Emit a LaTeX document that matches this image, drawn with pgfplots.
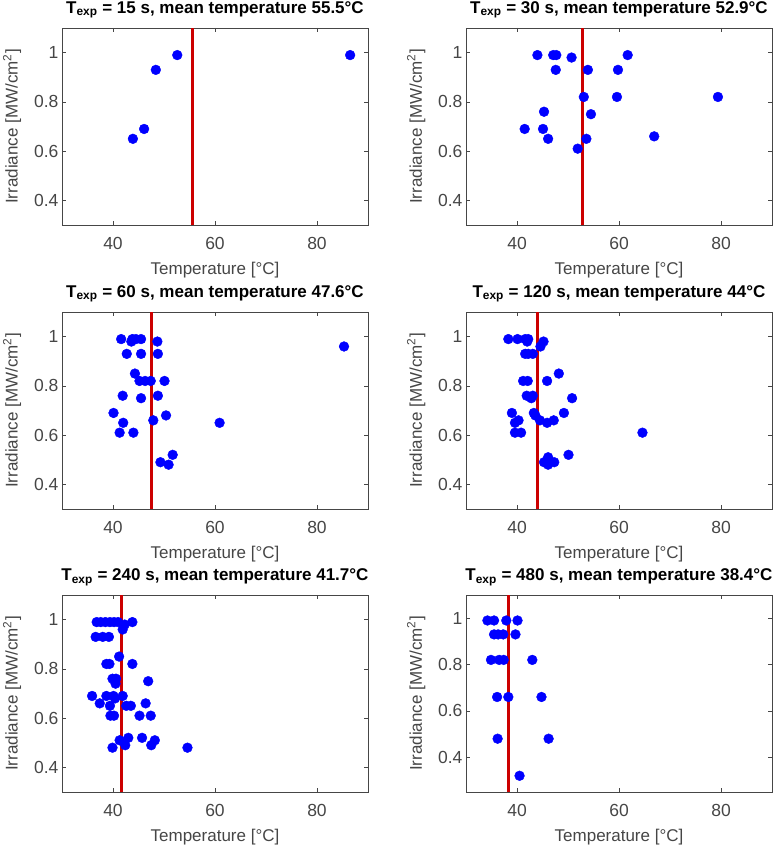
\documentclass[border=0pt]{standalone}
\usepackage{pgfplots}
\pgfplotsset{compat=1.18}
\usepackage{fontspec}
\setmainfont{Liberation Sans}

\definecolor{axgray}{RGB}{70,70,70}
\definecolor{meanred}{RGB}{204,0,0}
\definecolor{ptblue}{RGB}{0,0,255}

\pgfplotsset{
  panel/.style={
    scale only axis, width=306pt, height=197pt,
    anchor=north west,
    xmin=30, xmax=90, ymin=0.3, ymax=1.1,
    xtick={40,60,80}, ytick={0.4,0.6,0.8,1},
    tick align=inside, major tick length=4pt,
    axis line style={axgray, line width=0.6pt},
    tick style={axgray, line width=0.6pt},
    /pgf/number format/assume math mode=true,
    tick label style={font=\fontsize{17.5}{17.5}\selectfont, text=axgray},
    xticklabel style={yshift=-9pt},
    label style={font=\fontsize{17}{17}\selectfont, text=axgray},
    xlabel style={yshift=-5pt},
    ylabel style={yshift=6pt},
    title style={font=\fontsize{17}{17}\selectfont\bfseries},
    xlabel={Temperature [°C]},
    ylabel={Irradiance [MW/cm\textsuperscript{2}]},
  },
  pts/.style={only marks, mark=*, mark size=4.9pt, color=ptblue,
    mark options={draw=ptblue, fill=ptblue}},
  meanline/.style={meanred, line width=3pt, no marks},
}

\begin{document}
\begin{tikzpicture}
\path[use as bounding box] (0pt,0pt) rectangle (780pt,-845pt);

% T_exp = 15 s
\begin{axis}[panel, at={(62pt,-28pt)},
  title={T\textsubscript{exp} = 15 s, mean temperature 55.5°C}]
\addplot[pts] coordinates {(43.9,0.65) (46.1,0.69) (48.4,0.93) (52.6,0.99) (86.5,0.99)};
\addplot[meanline] coordinates {(55.5,0.3) (55.5,1.1)};
\end{axis}

% T_exp = 30 s
\begin{axis}[panel, at={(466pt,-28pt)},
  title={T\textsubscript{exp} = 30 s, mean temperature 52.9°C}]
\addplot[pts] coordinates {
  (44.0,0.99) (47.1,0.99) (47.7,0.99) (50.7,0.98) (61.7,0.99)
  (47.6,0.93) (53.9,0.93) (59.8,0.93)
  (53.1,0.82) (59.6,0.82) (79.4,0.82)
  (45.3,0.76) (54.5,0.75)
  (41.5,0.69) (45.1,0.69) (46.1,0.65) (53.6,0.65) (51.9,0.61) (66.9,0.66)};
\addplot[meanline] coordinates {(52.9,0.3) (52.9,1.1)};
\end{axis}

% T_exp = 60 s
\begin{axis}[panel, at={(62pt,-312pt)},
  title={T\textsubscript{exp} = 60 s, mean temperature 47.6°C}]
\addplot[pts] coordinates {
  (41.6,0.99) (43.6,0.98) (43.8,0.99) (44.5,0.99) (45.5,0.99) (48.7,0.98)
  (42.7,0.93) (45.5,0.93) (48.8,0.93)
  (44.3,0.85) (45.2,0.82) (46.3,0.82) (47.4,0.82) (50.1,0.82)
  (41.9,0.76) (45.5,0.75) (48.8,0.76)
  (40.1,0.69) (50.4,0.68) (47.9,0.66) (42.0,0.65) (60.9,0.65)
  (41.3,0.61) (44.0,0.61)
  (51.7,0.52) (49.3,0.49) (50.9,0.48)
  (85.3,0.96)};
\addplot[meanline] coordinates {(47.6,0.3) (47.6,1.1)};
\end{axis}

% T_exp = 120 s
\begin{axis}[panel, at={(466pt,-312pt)},
  title={T\textsubscript{exp} = 120 s, mean temperature 44°C}]
\addplot[pts] coordinates {
  (38.3,0.99) (40.1,0.99) (41.6,0.99) (42.2,0.99) (42.0,0.98)
  (44.6,0.96) (45.2,0.98)
  (41.6,0.93) (42.2,0.93) (43.1,0.93)
  (48.2,0.85) (41.2,0.82) (42.1,0.82) (45.9,0.82)
  (41.9,0.76) (43.1,0.76) (42.8,0.75) (50.8,0.75)
  (39.0,0.69) (43.3,0.69) (43.6,0.68) (44.5,0.66) (49.2,0.69)
  (47.2,0.66) (45.9,0.65) (40.3,0.66) (39.6,0.65)
  (39.6,0.61) (40.8,0.61) (64.6,0.61)
  (50.1,0.52) (45.3,0.49) (46.1,0.51) (47.3,0.49) (46.1,0.48)};
\addplot[meanline] coordinates {(44,0.3) (44,1.1)};
\end{axis}

% T_exp = 240 s
\begin{axis}[panel, at={(62pt,-595pt)},
  title={T\textsubscript{exp} = 240 s, mean temperature 41.7°C}]
\addplot[pts] coordinates {
  (36.8,0.99) (37.6,0.99) (38.5,0.99) (39.4,0.99) (40.2,0.99) (41.0,0.99)
  (42.3,0.98) (43.8,0.99) (41.9,0.96)
  (36.6,0.93) (38.0,0.93) (39.2,0.93)
  (41.2,0.85) (38.7,0.82) (39.3,0.82) (43.8,0.82)
  (39.9,0.76) (40.6,0.76) (40.5,0.74) (46.9,0.75)
  (35.9,0.69) (38.7,0.69) (40.1,0.69) (41.9,0.69) (40.4,0.68)
  (37.4,0.66) (46.4,0.66) (39.4,0.65) (42.6,0.65) (43.5,0.65)
  (39.5,0.61) (40.2,0.61) (45.2,0.61) (47.4,0.61)
  (41.3,0.51) (43.0,0.52) (45.7,0.52) (48.2,0.51)
  (42.4,0.49) (47.5,0.49) (39.9,0.48) (54.6,0.48)};
\addplot[meanline] coordinates {(41.7,0.3) (41.7,1.1)};
\end{axis}

% T_exp = 480 s
\begin{axis}[panel, at={(466pt,-595pt)}, ymin=0.25,
  title={T\textsubscript{exp} = 480 s, mean temperature 38.4°C}]
\addplot[pts] coordinates {
  (34.2,0.99) (35.5,0.99) (37.9,0.99) (40.1,0.99)
  (35.5,0.93) (36.3,0.93) (37.3,0.93) (39.7,0.93)
  (34.9,0.82) (36.5,0.82) (37.4,0.82) (43.0,0.82)
  (36.1,0.66) (38.3,0.66) (44.8,0.66)
  (36.2,0.48) (46.2,0.48)
  (40.5,0.32)};
\addplot[meanline] coordinates {(38.4,0.25) (38.4,1.1)};
\end{axis}
\end{tikzpicture}
\end{document}
